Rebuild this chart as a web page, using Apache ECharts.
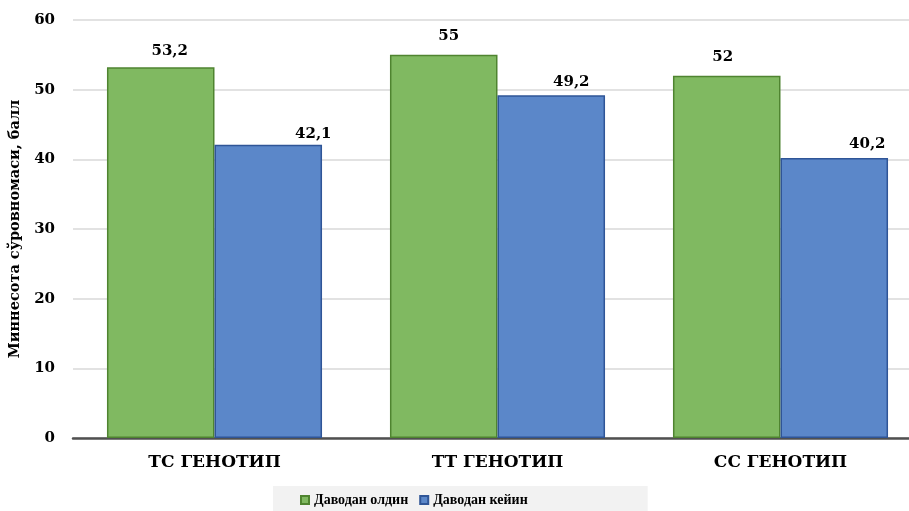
<!DOCTYPE html>
<html>
<head>
<meta charset="utf-8">
<script src="https://cdn.jsdelivr.net/npm/echarts@6/dist/echarts.min.js"></script>
<style>
  html, body { margin: 0; padding: 0; background: #ffffff; }
  #chart { width: 909px; height: 511px; overflow: hidden; }
</style>
</head>
<body>
<div id="chart"></div>
<script>
const categories = ['ТС ГЕНОТИП', 'ТТ ГЕНОТИП', 'СС ГЕНОТИП'];
const beforeValues = [53.2, 55, 52];
const afterValues = [42.1, 49.2, 40.2];
const seriesNames = ['Даводан олдин', 'Даводан кейин'];
const yTicks = { min: 0, max: 60, interval: 10 };

const serif = '"DejaVu Serif", "Liberation Serif", serif';
const legendSerif = '"Liberation Serif", "DejaVu Serif", serif';
const fmt = p => String(p.value).replace('.', ',');

// label nudges for each bar, as placed in the layout
const greenLabel = [{ dx: 9, dist: 9 }, { dx: 5, dist: 11 }, { dx: -4, dist: 11 }];
const blueLabel = [{ dx: 45, dist: 3 }, { dx: 20, dist: 6 }, { dx: 33, dist: 6 }];

const labelBase = { show: true, position: 'top', formatter: fmt, fontFamily: serif, fontWeight: 'bold', fontSize: 15, color: '#000' };
const withLabels = (values, nudges) => values.map((v, i) => ({
  value: v,
  label: Object.assign({}, labelBase, { distance: nudges[i].dist, offset: [nudges[i].dx, 0] })
}));

const chart = echarts.init(document.getElementById('chart'), null, { renderer: 'canvas' });
chart.setOption({
  animation: false,
  backgroundColor: '#ffffff',
  grid: { left: 73, top: 20, width: 849, height: 418, outerBoundsMode: 'none' },
  legend: {
    bottom: 0,
    left: 273,
    data: seriesNames,
    backgroundColor: '#f2f2f2',
    padding: [7, 120, 4, 27],
    itemWidth: 8,
    itemHeight: 8,
    itemGap: 11,
    icon: 'rect',
    textStyle: { fontFamily: legendSerif, fontWeight: 'bold', fontSize: 14, color: '#000' }
  },
  xAxis: {
    type: 'category',
    data: categories,
    axisLine: { lineStyle: { color: '#505050', width: 2.5 } },
    axisTick: { show: false },
    axisLabel: { fontFamily: serif, fontWeight: 'bold', fontSize: 17, color: '#000', margin: 16 }
  },
  yAxis: {
    type: 'value',
    min: yTicks.min,
    max: yTicks.max,
    interval: yTicks.interval,
    name: 'Миннесота сўровномаси, балл',
    nameLocation: 'middle',
    nameGap: 46,
    nameTextStyle: { fontFamily: serif, fontWeight: 'bold', fontSize: 14.5, color: '#000' },
    axisLine: { show: false },
    axisTick: { show: false },
    axisLabel: { fontFamily: serif, fontWeight: 'bold', fontSize: 15, color: '#000', margin: 18 },
    splitLine: { lineStyle: { color: '#d9d9d9', width: 1.5 } }
  },
  series: [
    {
      name: seriesNames[0],
      type: 'bar',
      data: withLabels(beforeValues, greenLabel),
      barGap: '0%',
      barCategoryGap: '24%',
      itemStyle: { color: '#80b961', borderColor: '#4f8430', borderWidth: 1.5 }
    },
    {
      name: seriesNames[1],
      type: 'bar',
      data: withLabels(afterValues, blueLabel),
      itemStyle: { color: '#5b87c9', borderColor: '#2f5597', borderWidth: 1.5 }
    }
  ]
});
</script>
</body>
</html>
